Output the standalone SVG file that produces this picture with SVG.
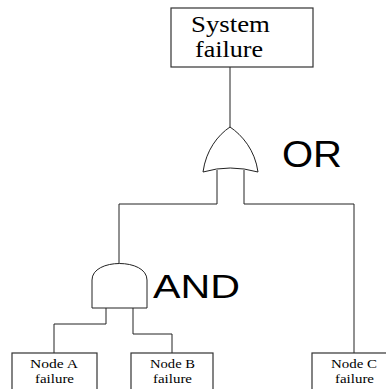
<svg xmlns="http://www.w3.org/2000/svg" width="386" height="389" viewBox="0 0 386 389">
<style>
.box{fill:#fff;stroke:#333;stroke-width:1.2}
.gate{fill:#fff;stroke:#222;stroke-width:1}
.wire{fill:none;stroke:#222;stroke-width:1}
.t{font-family:"Liberation Serif","Times New Roman",serif;fill:#000;text-anchor:middle}
.big{font-family:"Liberation Sans",Arial,sans-serif;fill:#000}
</style>
<rect width="386" height="389" fill="#fff"/>
<g id="connectors">
<path class="wire" d="M230,67 V128"/>
<path class="wire" d="M217,170 V204 H119 V264"/>
<path class="wire" d="M244,170 V204 H354 V353"/>
<path class="wire" d="M106,307 V324 H54 V353"/>
<path class="wire" d="M133,307 V334 H172 V353"/>
</g>
<g id="system">
<rect class="box" x="171" y="8" width="142" height="59"/>
<text class="t" x="230.5" y="32" font-size="24" textLength="79" lengthAdjust="spacingAndGlyphs">System</text>
<text class="t" x="229" y="57" font-size="24" textLength="68" lengthAdjust="spacingAndGlyphs">failure</text>
</g>
<g id="or-gate">
<path class="gate" d="M230,127 C218,135 206,150 203,172 Q230,164 258,172 C255,150 242,135 230,127 Z"/>
<text class="big" x="282" y="167" font-size="36" textLength="60" lengthAdjust="spacingAndGlyphs">OR</text>
</g>
<g id="and-gate">
<path class="gate" d="M92,308 L92,280 C92,258 147,258 147,280 L147,308 Z"/>
<text class="big" x="153" y="298" font-size="34" textLength="87" lengthAdjust="spacingAndGlyphs">AND</text>
</g>
<g id="node-a">
<rect class="box" x="12" y="353" width="85" height="45"/>
<text class="t" x="54" y="368" font-size="13" textLength="48" lengthAdjust="spacingAndGlyphs">Node A</text>
<text class="t" x="54.5" y="383" font-size="13" textLength="39" lengthAdjust="spacingAndGlyphs">failure</text>
</g>
<g id="node-b">
<rect class="box" x="131" y="353" width="82" height="45"/>
<text class="t" x="172.5" y="368" font-size="13" textLength="45" lengthAdjust="spacingAndGlyphs">Node B</text>
<text class="t" x="172.5" y="383" font-size="13" textLength="39" lengthAdjust="spacingAndGlyphs">failure</text>
</g>
<g id="node-c">
<rect class="box" x="312" y="353" width="85" height="45"/>
<text class="t" x="354" y="368" font-size="13" textLength="46" lengthAdjust="spacingAndGlyphs">Node C</text>
<text class="t" x="354.5" y="383" font-size="13" textLength="39" lengthAdjust="spacingAndGlyphs">failure</text>
</g>
</svg>
